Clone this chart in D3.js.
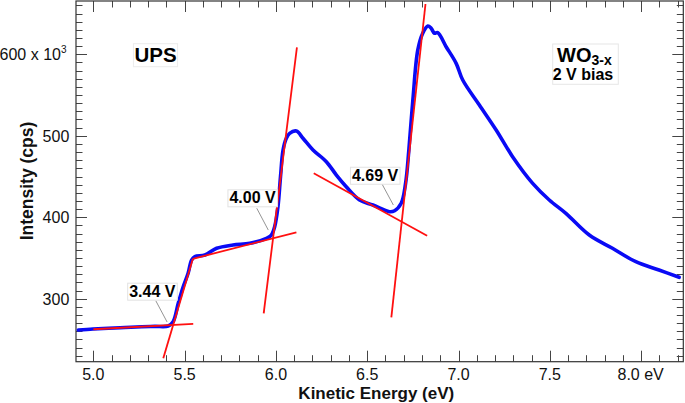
<!DOCTYPE html>
<html>
<head>
<meta charset="utf-8">
<script src="https://cdn.jsdelivr.net/npm/d3@7"></script>
<style>
  html, body { margin: 0; padding: 0; background: #fff; }
  svg { display: block; font-family: "Liberation Sans", Arial, Helvetica, sans-serif; }
</style>
</head>
<body>
<svg id="chart" width="685" height="403"></svg>
<script>
// ---- data ----
const energy = [4.918, 4.998, 5.082, 5.173, 5.265, 5.337, 5.41, 5.437, 5.465, 5.492, 5.519, 5.538, 5.556, 5.611,
  5.675, 5.765, 5.857, 5.948, 5.975, 5.993, 6.011, 6.025, 6.039, 6.057, 6.075, 6.112, 6.148, 6.203, 6.276,
  6.331, 6.385, 6.458, 6.531, 6.622, 6.65, 6.686, 6.71, 6.728, 6.75, 6.777, 6.804, 6.832, 6.85, 6.868,
  6.886, 6.932, 6.987, 7.023, 7.114, 7.206, 7.296, 7.406, 7.497, 7.588, 7.716, 7.843, 7.971, 8.098, 8.208];
const intensity = [261.6, 262.8, 263.7, 264.7, 265.6, 266.1, 266.5, 271.8, 294.4, 314.7, 331.2, 347.5, 351.6, 353.6,
  361.9, 365.9, 368.0, 374.1, 378.2, 388.4, 412.9, 449.7, 482.5, 496.9, 503.0, 505.8, 496.9, 482.5, 468.2,
  451.8, 437.5, 421.2, 415.0, 406.8, 408.0, 417.1, 441.6, 482.5, 543.9, 605.3, 625.8, 634.7, 631.9, 625.8,
  626.5, 609.3, 588.9, 568.4, 537.8, 507.1, 474.3, 441.6, 421.2, 404.8, 378.2, 361.9, 345.4, 335.2, 326.3];

// tangent (fit) lines: [E1, I1, E2, I2]
const fitLines = [
  [5.0, 262.5, 5.547, 269.0],
  [5.383, 226.8, 5.545, 349.0],
  [5.545, 349.0, 6.112, 381.5],
  [5.933, 282.1, 6.115, 608.6],
  [6.207, 453.9, 6.828, 377.3],
  [6.632, 277.2, 6.819, 661.7]
];

// onset annotations: text, label position (E, I baseline), leader from (E,I) to (E,I)
const onsetLabels = ["3.44 V", "4.00 V", "4.69 V"];
const onsetLabelPos = [[5.323, 302.5], [5.872, 417.1], [6.543, 444.8]];
const onsetLeaders = [[5.342, 297.5, 5.404, 271.4], [5.895, 411.0, 5.958, 384.3], [6.579, 441.6, 6.643, 415.0]];

const xMajorTicks = [5.0, 5.5, 6.0, 6.5, 7.0, 7.5, 8.0];
const xTickLabels = ["5.0", "5.5", "6.0", "6.5", "7.0", "7.5", "8.0 eV"];
const yMajorTicks = [300, 400, 500, 600];
const yTickLabels = ["300", "400", "500", "600 x 10"];

// ---- layout ----
const svg = d3.select("#chart");
const L = 76, R = 683.3, T = 1, B = 361.7;
const x = d3.scaleLinear().domain([4.905, 8.231]).range([L, R]);
const y = d3.scaleLinear().domain([222.7, 665.4]).range([B, T]);

const tickColor = "#444";
const g = svg.append("g");

// minor ticks
const xMinor = d3.range(4.9, 8.25, 0.1).map(v => +v.toFixed(2)).filter(v => v >= 4.905 && v <= 8.231);
const yMinor = d3.range(230, 665, 10).filter(v => v >= 222.7 && v <= 665.4);

function isMajorX(v) { return xMajorTicks.some(m => Math.abs(m - v) < 1e-6); }
function isMajorY(v) { return yMajorTicks.some(m => Math.abs(m - v) < 1e-6); }

// bottom & top ticks
xMinor.forEach(v => {
  const len = isMajorX(v) ? 11 : 6.5;
  const px = Math.round(x(v)) + 0.5;
  g.append("line").attr("x1", px).attr("x2", px).attr("y1", B).attr("y2", B - len).attr("stroke", tickColor).attr("stroke-width", 1);
  g.append("line").attr("x1", px).attr("x2", px).attr("y1", T).attr("y2", T + len).attr("stroke", tickColor).attr("stroke-width", 1);
});
// left & right ticks
yMinor.forEach(v => {
  const len = isMajorY(v) ? 11 : 6.5;
  const py = Math.round(y(v)) + 0.5;
  g.append("line").attr("x1", L).attr("x2", L + len).attr("y1", py).attr("y2", py).attr("stroke", tickColor).attr("stroke-width", 1);
  g.append("line").attr("x1", R).attr("x2", R - len).attr("y1", py).attr("y2", py).attr("stroke", tickColor).attr("stroke-width", 1);
});

// frame
g.append("rect").attr("x", L).attr("y", T).attr("width", R - L).attr("height", B - T)
  .attr("fill", "none").attr("stroke", "#333").attr("stroke-width", 1.2);

// x tick labels
xMajorTicks.forEach((v, i) => {
  g.append("text").attr("x", x(v) + (i === xMajorTicks.length - 1 ? -0.5 : 0)).attr("y", 379.8)
    .attr("text-anchor", "middle").attr("font-size", 16).attr("fill", "#111").text(xTickLabels[i]);
});
// y tick labels
yMajorTicks.forEach((v, i) => {
  const t = g.append("text").attr("x", 69.3).attr("y", y(v) + 5.8)
    .attr("text-anchor", "end").attr("font-size", 16).attr("fill", "#111");
  if (v === 600) {
    t.attr("x", 66.5);
    t.append("tspan").text(yTickLabels[i]);
    t.append("tspan").attr("font-size", 10).attr("dy", -7).text("3");
  } else {
    t.text(yTickLabels[i]);
  }
});

// axis titles
g.append("text").attr("x", 376.3).attr("y", 399).attr("text-anchor", "middle")
  .attr("font-size", 17).attr("font-weight", "bold").attr("fill", "#111").text("Kinetic Energy (eV)");
g.append("text").attr("transform", "translate(32.5,181) rotate(-90)").attr("text-anchor", "middle")
  .attr("font-size", 17.5).attr("font-weight", "bold").attr("fill", "#111").text("Intensity (cps)");

// clip
svg.append("clipPath").attr("id", "clip").append("rect").attr("x", L).attr("y", T).attr("width", R - L).attr("height", B - T);
const plot = svg.append("g").attr("clip-path", "url(#clip)");

// data curve
const line = d3.line().x((d, i) => x(energy[i])).y((d, i) => y(intensity[i])).curve(d3.curveCatmullRom.alpha(0.5));
plot.append("path").datum(energy).attr("d", line).attr("fill", "none")
  .attr("stroke", "#0a0af5").attr("stroke-width", 3.6).attr("stroke-linejoin", "round").attr("stroke-linecap", "round");

// fit lines
fitLines.forEach(s => {
  plot.append("line").attr("x1", x(s[0])).attr("y1", y(s[1])).attr("x2", x(s[2])).attr("y2", y(s[3]))
    .attr("stroke", "#ff1010").attr("stroke-width", 1.8);
});

// onset labels
onsetLabels.forEach((txt, i) => {
  const ld = onsetLeaders[i];
  plot.append("line").attr("x1", x(ld[0])).attr("y1", y(ld[1])).attr("x2", x(ld[2])).attr("y2", y(ld[3]))
    .attr("stroke", "#888").attr("stroke-width", 0.9);
  const lg = plot.append("g");
  const t = lg.append("text").attr("x", x(onsetLabelPos[i][0])).attr("y", y(onsetLabelPos[i][1]))
    .attr("text-anchor", "middle").attr("font-size", 16).attr("font-weight", "bold").attr("fill", "#000").text(txt);
  const bb = t.node().getBBox();
  lg.insert("rect", "text").attr("x", bb.x - 1.5).attr("y", bb.y + 0.5).attr("width", bb.width + 3).attr("height", bb.height)
    .attr("fill", "#fff").attr("stroke", "#e2e2e2").attr("stroke-width", 1);
});

// UPS label
{
  const lg = svg.append("g");
  const t = lg.append("text").attr("x", 155.5).attr("y", 61.7).attr("text-anchor", "middle")
    .attr("font-size", 20.5).attr("font-weight", "bold").attr("fill", "#000").text("UPS");
  const bb = t.node().getBBox();
  lg.insert("rect", "text").attr("x", bb.x - 1).attr("y", bb.y + 1).attr("width", bb.width + 2).attr("height", bb.height)
    .attr("fill", "#fff").attr("stroke", "#ececec").attr("stroke-width", 1);
}
// WO3-x label
{
  const lg = svg.append("g");
  lg.append("rect").attr("x", 552.7).attr("y", 44).attr("width", 65.6).attr("height", 40.3)
    .attr("fill", "#fff").attr("stroke", "#e6e6e6").attr("stroke-width", 1);
  const t = lg.append("text").attr("x", 557).attr("y", 61.7).attr("font-size", 20).attr("font-weight", "bold").attr("fill", "#000");
  t.append("tspan").text("WO");
  t.append("tspan").attr("font-size", 14).attr("dy", 2.8).text("3-x");
  lg.append("text").attr("x", 583).attr("y", 80).attr("text-anchor", "middle")
    .attr("font-size", 16).attr("font-weight", "bold").attr("fill", "#000").text("2 V bias");
}
</script>
</body>
</html>
